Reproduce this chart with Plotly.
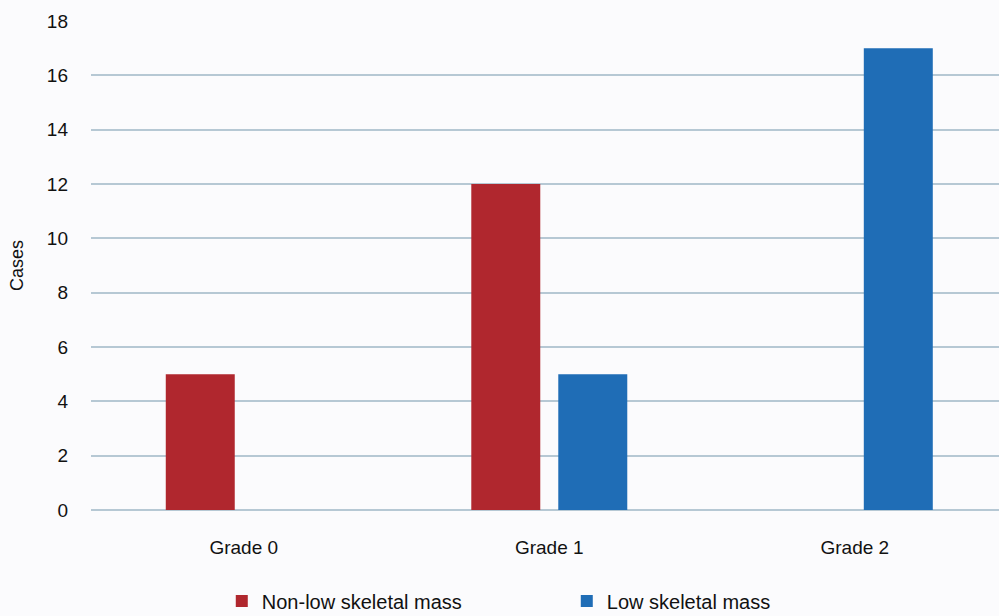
import plotly.graph_objects as go

# Data
grades = ["Grade 0", "Grade 1", "Grade 2"]
non_low_cases = [5, 12, 0]
low_cases = [0, 5, 17]
y_ticks = [0, 2, 4, 6, 8, 10, 12, 14, 16, 18]

RED = "#b0272e"
BLUE = "#1f6db6"
BG = "#fbfbfd"
GRID = "#b6c8d4"
FONT = "Liberation Sans, Arial, sans-serif"

fig = go.Figure()
fig.add_trace(go.Bar(x=grades, y=non_low_cases, name="Non-low skeletal mass",
                     marker=dict(color=RED, line=dict(width=0))))
fig.add_trace(go.Bar(x=grades, y=low_cases, name="Low skeletal mass",
                     marker=dict(color=BLUE, line=dict(width=0))))

fig.update_layout(
    width=999, height=616,
    margin=dict(l=91, r=0, t=21, b=106),
    paper_bgcolor=BG, plot_bgcolor=BG,
    font=dict(family=FONT, size=19, color="#111111"),
    barmode="group", bargap=0.4305, bargroupgap=0.207,
    showlegend=True,
    legend=dict(orientation="h", xref="container", yref="container",
                x=0.222, xanchor="left", y=0.056, yanchor="top",
                entrywidth=300, font=dict(size=20), bgcolor="rgba(0,0,0,0)",
                itemsizing="constant"),
    xaxis=dict(range=[-0.5, 2.472], showgrid=False, zeroline=False, showline=False,
               ticks="", ticklabelstandoff=24, tickfont=dict(size=19), automargin=False),
    yaxis=dict(range=[0, 18], tickvals=y_ticks, showgrid=True, gridcolor=GRID,
               gridwidth=1.5, zeroline=True, zerolinecolor=GRID, zerolinewidth=1.5,
               showline=False, ticks="", ticklabelstandoff=22, tickfont=dict(size=19),
               automargin=False,
               title=dict(text="Cases", standoff=18, font=dict(size=18))),
)

fig.write_html("out.html")
